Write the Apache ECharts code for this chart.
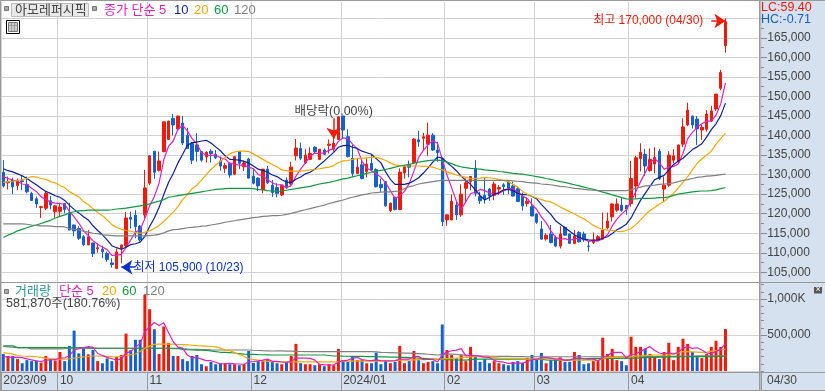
<!DOCTYPE html>
<html><head><meta charset="utf-8">
<script src="https://cdn.jsdelivr.net/npm/echarts@6/dist/echarts.min.js"></script>
<style>html,body{margin:0;padding:0;background:#fff}#c{width:825px;height:391px}</style>
</head><body><div id="c"></div>
<script>
// Prices are in thousand won, volumes in thousand shares.
const opens=[
130.6,127.9,128.6,127.2,128.4,127.5,125.2,123.8,121.6,121.4,
123.3,120.5,120.6,122.6,120.2,117.1,116.2,114.1,112.0,112.5,
111.0,110.9,109.8,107.4,106.0,111.0,111.8,119.1,119.6,116.8,
119.7,127.8,136.0,131.1,135.9,139.0,144.4,141.7,143.2,140.1,
138.0,137.6,135.9,134.5,136.0,135.2,133.5,131.6,132.9,130.1,
135.9,132.0,134.0,129.6,129.1,126.2,131.4,127.3,126.7,124.8,
128.6,127.6,134.8,136.7,133.0,133.9,137.0,133.9,136.3,137.5,
136.5,139.0,145.0,139.7,134.2,130.3,132.5,130.8,132.9,131.3,
127.5,128.2,120.8,124.2,121.1,130.4,132.5,133.1,138.9,139.3,
137.8,140.1,136.3,134.2,118.4,118.4,122.2,119.7,126.5,128.2,
131.6,124.4,124.7,126.3,124.7,126.3,127.4,128.2,127.1,126.4,
124.4,122.6,121.8,119.9,116.1,113.5,114.8,113.9,111.7,116.5,
114.8,112.4,115.2,114.8,111.7,112.6,113.3,113.5,116.4,119.2,
120.9,122.2,122.1,122.6,127.1,134.1,135.2,131.0,132.7,136.0,
126.3,127.3,133.7,133.3,137.8,142.7,145.0,144.2,141.4,141.6,
143.7,146.8,152.1,163.0];
const closes=[
127.1,128.2,126.9,128.6,128.2,125.6,123.4,122.5,121.8,125.2,
122.2,122.0,121.7,121.1,115.8,115.6,113.7,112.1,114.1,109.8,
111.3,110.3,108.3,107.0,110.2,112.0,118.9,118.6,116.7,113.3,
126.6,134.8,130.6,133.5,143.5,143.7,142.7,145.0,138.1,136.7,
133.7,135.9,133.7,135.7,135.4,134.3,132.2,132.3,129.9,134.6,
132.9,133.0,129.1,127.8,127.1,131.4,127.9,125.4,125.2,127.3,
126.9,131.9,136.8,134.2,135.0,135.4,135.9,136.5,135.2,137.8,
138.0,144.8,141.4,134.6,130.3,131.9,129.0,132.7,131.2,126.9,
126.7,122.0,122.7,121.1,130.6,132.0,131.9,139.1,138.4,139.7,
140.1,136.3,135.6,118.0,119.7,123.2,119.7,125.0,127.9,129.5,
125.2,123.3,123.8,124.5,127.6,126.7,126.9,126.5,124.5,123.1,
122.0,123.2,119.4,117.8,113.5,114.5,112.6,111.7,114.8,114.5,
112.4,114.3,112.8,113.3,111.6,113.3,114.1,115.8,118.1,122.5,
122.5,120.8,121.2,129.0,134.3,135.7,132.2,133.9,134.4,129.0,
127.3,135.0,134.8,137.6,142.2,146.5,142.7,141.7,142.1,145.5,
146.3,150.6,156.1,169.1];
const lows=[
126.7,126.2,125.0,126.0,126.0,125.2,123.3,121.5,118.9,120.9,
121.1,119.0,119.4,120.1,115.8,114.3,113.3,111.7,112.0,108.9,
110.0,108.6,107.7,106.2,105.9,107.3,111.1,116.2,113.7,112.8,
118.8,127.3,128.9,130.8,135.7,138.9,140.0,141.4,137.6,136.7,
132.7,133.3,133.3,133.1,133.1,134.0,131.0,130.4,129.2,129.9,
131.4,130.9,129.0,127.5,125.8,125.2,127.6,124.3,124.2,124.5,
126.3,126.9,133.6,133.7,132.7,133.7,135.3,133.7,135.0,135.4,
135.9,138.9,139.1,134.4,129.5,130.2,128.8,129.3,130.8,126.7,
125.6,121.8,120.4,120.8,120.9,129.0,129.3,132.9,137.1,136.3,
134.8,136.1,133.3,116.8,116.9,118.4,118.4,119.2,123.2,126.0,
124.4,122.5,122.6,123.3,123.5,124.8,124.8,125.0,124.4,123.1,
120.8,121.8,119.4,117.4,113.3,113.1,112.4,111.4,111.1,114.4,
112.2,112.2,112.6,112.8,110.3,112.2,113.1,113.3,116.0,118.0,
120.5,120.5,119.7,121.8,123.9,130.8,129.7,130.8,130.3,128.6,
123.1,126.9,132.9,132.9,137.0,142.4,141.8,137.6,138.9,141.0,
143.5,146.3,151.6,161.2];
const highs=[
133.7,129.5,129.2,129.0,129.9,129.5,125.6,124.4,122.0,125.6,
124.5,122.2,122.8,122.8,122.8,117.2,116.8,114.5,115.8,112.6,
112.4,111.8,110.3,108.6,111.1,112.0,120.5,120.5,120.9,117.1,
131.2,135.0,136.0,135.9,143.5,143.8,145.5,145.0,145.0,142.0,
138.3,140.6,136.0,136.0,136.5,136.3,134.6,133.0,133.1,134.8,
135.9,133.6,134.3,131.6,129.3,131.4,132.2,128.6,127.8,127.3,
129.3,133.3,139.1,138.2,136.5,137.0,137.3,136.5,136.7,139.0,
139.3,144.8,145.0,141.6,137.6,134.0,134.2,134.2,135.2,131.6,
129.0,128.2,122.8,124.4,131.6,132.5,133.6,139.3,141.2,140.7,
143.3,140.6,138.4,134.2,119.7,124.9,123.1,127.5,129.0,129.6,
133.7,125.6,129.3,126.5,128.2,127.3,127.8,128.4,128.2,126.9,
125.4,124.1,123.9,120.1,118.1,115.0,117.1,114.4,116.8,116.7,
115.0,115.8,115.6,115.4,112.8,115.2,114.5,120.3,120.3,122.6,
123.9,124.2,122.1,133.5,134.8,138.0,136.6,136.7,137.0,136.6,
129.5,136.0,136.5,137.6,144.4,148.4,145.0,145.0,142.9,146.5,
147.6,150.6,156.8,170.0];
const ma5=[
129.5,129.0,128.6,128.3,127.6,127.5,126.5,125.7,124.3,123.7,
122.9,122.7,122.6,122.4,120.6,119.2,117.6,115.7,114.3,113.1,
112.2,111.5,110.8,109.3,109.4,109.6,111.3,113.3,115.3,115.9,
118.8,122.0,124.4,127.8,133.8,137.2,138.6,141.6,142.6,141.2,
139.2,137.9,135.6,135.0,134.9,135.0,134.3,134.0,132.8,132.7,
132.4,132.5,131.9,131.5,130.0,129.7,128.7,127.9,127.4,127.4,
126.5,127.3,129.6,131.4,133.0,134.7,135.5,135.4,135.6,136.2,
136.7,138.5,139.4,139.3,137.8,136.6,133.4,131.7,131.0,130.3,
129.3,127.9,125.9,123.9,124.6,125.7,127.7,130.9,134.4,136.2,
137.6,138.7,138.0,133.9,129.9,126.6,123.2,121.1,123.1,125.1,
125.5,126.2,125.9,125.3,124.9,125.2,125.9,126.4,126.4,125.5,
124.5,123.9,122.4,121.1,119.2,117.7,115.6,114.0,113.4,113.6,
113.2,113.5,113.8,113.5,112.9,113.1,113.0,113.6,114.6,116.8,
118.6,119.9,121.0,123.2,125.6,128.2,130.5,133.0,134.1,133.0,
131.4,131.9,132.1,132.7,135.4,139.2,140.8,142.1,143.0,143.7,
143.7,145.2,148.1,153.5];
const ma10=[
131.5,131.0,130.7,130.2,129.7,129.0,128.2,127.4,126.5,125.7,
125.2,124.6,124.2,123.4,122.2,121.1,120.2,119.2,118.4,116.9,
115.7,114.6,113.3,111.8,111.3,110.9,111.4,112.1,112.3,112.7,
114.2,116.7,118.9,121.6,124.9,128.0,130.3,133.0,135.2,137.5,
138.2,138.3,138.6,138.8,138.1,137.1,136.1,134.8,133.9,133.8,
133.7,133.4,133.0,132.2,131.4,131.1,130.6,129.9,129.5,128.7,
128.1,128.0,128.8,129.4,130.2,130.6,131.4,132.5,133.5,134.6,
135.7,137.0,137.4,137.5,137.0,136.7,136.0,135.6,135.2,134.1,
133.0,130.7,128.8,127.5,127.5,127.5,127.8,128.4,129.2,130.4,
131.7,133.2,134.5,134.2,133.1,132.1,131.0,129.6,128.5,127.5,
126.1,124.7,123.5,124.2,125.0,125.4,126.1,126.2,125.9,125.2,
124.9,124.9,124.4,123.8,122.4,121.1,119.8,118.2,117.3,116.4,
115.5,114.6,113.9,113.5,113.3,113.2,113.3,113.7,114.1,114.9,
115.9,116.5,117.3,118.9,121.2,123.4,125.2,127.0,128.7,129.3,
129.8,131.2,132.6,133.4,134.2,135.3,136.4,137.1,137.9,139.6,
141.5,143.0,145.1,148.3];
const ma20=[
128.0,128.2,128.3,128.5,128.7,129.0,129.5,129.4,129.0,128.8,
128.2,127.9,127.2,126.7,125.6,125.0,124.3,123.1,122.3,121.3,
120.3,119.5,118.4,117.2,116.5,116.0,115.7,115.5,115.2,115.0,
115.3,115.6,116.2,117.0,118.0,119.2,120.4,121.8,123.6,124.9,
126.4,127.3,128.6,130.0,131.3,132.4,133.4,134.4,135.3,135.8,
136.0,136.0,135.9,135.3,134.6,133.9,133.2,132.6,132.0,131.2,
131.0,130.9,130.9,130.9,131.0,131.2,131.3,131.5,131.7,131.9,
132.3,133.1,133.5,133.6,133.9,134.1,134.2,134.3,134.4,134.4,
134.1,133.6,133.0,132.5,132.3,132.2,132.2,132.2,132.2,132.1,
132.1,131.9,131.5,131.2,130.7,130.3,129.9,129.6,129.3,129.0,
129.0,129.1,129.3,129.2,129.0,128.8,128.5,128.2,127.5,126.8,
125.7,125.0,124.4,124.0,123.6,123.2,123.0,122.4,121.7,121.1,
120.5,119.9,119.3,118.7,117.9,117.0,116.4,116.0,115.8,115.7,
115.5,115.4,115.7,116.2,117.2,118.4,119.7,120.8,121.6,122.5,
123.1,124.2,125.2,126.6,128.0,129.5,131.2,132.9,134.0,135.0,
136.0,137.8,139.2,140.6];
const ma60=[
113.9,114.5,115.0,115.6,116.0,116.4,116.8,117.1,117.5,117.9,
118.3,118.9,119.3,119.7,120.2,120.5,120.7,120.8,120.9,120.9,
120.9,120.9,120.9,121.0,121.2,121.3,121.4,121.6,121.8,122.0,
122.2,122.5,122.9,123.2,123.6,124.2,124.4,124.6,124.8,125.0,
125.2,125.4,125.6,125.8,126.0,126.2,126.3,126.4,126.5,126.5,
126.5,126.5,126.5,126.4,126.2,126.1,125.9,125.8,125.7,125.8,
126.0,126.2,126.4,126.6,126.8,127.0,127.3,127.6,127.8,128.0,
128.3,128.6,128.9,129.1,129.4,129.7,130.0,130.3,130.6,130.9,
131.1,131.3,131.6,131.9,132.2,132.4,132.6,132.9,133.2,133.4,
133.6,133.7,133.7,133.6,133.2,132.8,132.3,132.0,131.8,131.6,
131.5,131.4,131.2,131.1,131.0,130.8,130.7,130.5,130.3,130.2,
130.1,129.9,129.7,129.5,129.3,129.0,128.8,128.5,128.2,128.0,
127.7,127.4,127.1,126.8,126.5,126.2,125.9,125.5,125.2,124.8,
124.5,124.1,123.8,123.7,123.8,123.9,123.9,123.9,124.0,124.1,
124.1,124.3,124.7,125.0,125.2,125.4,125.6,125.7,125.8,125.8,
125.9,126.1,126.4,126.7];
const ma120=[
117.4,117.4,117.4,117.4,117.4,117.3,117.1,117.0,116.9,116.9,
116.8,116.7,116.7,116.6,116.2,116.0,115.8,115.5,115.3,115.0,
114.9,114.6,114.5,114.4,114.3,114.3,114.3,114.3,114.3,114.3,
114.3,114.4,114.5,114.7,115.1,115.6,115.9,116.0,116.2,116.4,
116.5,116.6,116.8,116.9,117.1,117.3,117.5,117.8,118.0,118.2,
118.4,118.6,118.8,119.0,119.1,119.3,119.4,119.5,119.5,119.6,
119.8,120.1,120.4,120.7,121.0,121.3,121.6,121.9,122.2,122.6,
122.9,123.2,123.5,123.9,124.2,124.5,124.8,125.0,125.3,125.4,
125.5,125.6,125.6,125.7,125.8,126.4,126.9,127.2,127.6,127.8,
128.0,128.2,128.4,128.5,128.5,128.5,128.5,128.5,128.5,128.5,
128.5,128.5,128.5,128.5,128.5,128.5,128.5,128.5,128.4,128.3,
128.2,128.0,127.9,127.8,127.6,127.5,127.4,127.2,127.0,126.9,
126.7,126.5,126.4,126.2,126.1,126.0,125.9,125.9,125.9,125.9,
125.9,125.9,125.9,126.1,126.5,126.8,127.1,127.2,127.3,127.5,
127.6,127.7,127.9,128.2,128.5,128.7,129.0,129.3,129.4,129.6,
129.7,129.8,130.0,130.1];
const volume=[
236,208,208,165,108,151,137,146,118,208,
165,146,264,137,349,561,245,311,231,292,
137,108,175,137,193,222,519,292,434,434,
1057,858,580,236,618,387,208,208,165,137,
208,222,94,66,127,94,108,108,94,94,
80,94,278,113,137,137,160,127,108,94,
113,208,377,108,94,94,80,94,66,94,
80,307,151,127,208,151,151,108,108,255,
94,137,108,127,349,108,137,278,151,108,
127,137,108,646,292,222,175,222,137,335,
198,127,165,108,137,108,94,80,127,137,
113,184,222,165,250,108,151,160,189,127,
127,264,222,94,108,137,137,462,236,307,
151,137,80,476,335,335,307,236,208,165,
264,392,151,335,448,377,264,193,179,236,
335,420,335,582];
const volMa5=[
200,195,190,190,185,168,154,141,132,152,
155,157,180,184,212,291,311,321,339,328,
243,216,189,170,150,167,249,273,332,380,
547,615,673,633,670,536,406,331,317,221,
185,188,165,145,143,121,98,101,106,100,
97,94,128,132,140,152,165,135,134,125,
120,130,180,180,180,176,151,94,86,86,
83,128,140,152,175,189,158,149,145,155,
143,140,140,144,163,166,166,200,205,156,
160,160,126,225,262,281,289,311,210,218,
213,204,192,187,147,129,122,105,109,109,
110,128,157,164,187,186,179,167,172,147,
151,173,186,167,163,165,140,188,216,256,
259,259,182,230,236,273,307,338,284,250,
236,253,236,261,318,341,315,323,292,250,
241,273,301,382];
const volMa20=[
255,245,235,215,208,205,203,198,190,178,
172,170,165,165,170,178,189,195,200,208,
208,207,204,200,198,205,215,228,236,270,
315,345,370,373,373,373,372,368,365,362,
358,352,350,345,340,335,318,290,283,255,
225,205,170,160,150,140,135,130,128,127,
127,127,127,127,127,127,127,127,127,127,
127,130,134,137,137,137,137,137,137,137,
138,140,142,145,150,152,152,155,158,160,
163,165,165,168,172,176,180,185,190,195,
198,198,195,190,185,180,177,175,172,170,
168,166,165,165,170,172,175,165,155,151,
151,151,151,151,151,151,151,170,189,189,
189,189,190,200,207,212,215,218,222,222,
222,225,235,255,268,268,265,262,259,259,
275,285,295,302];
const volMa60=[
349,349,349,325,325,325,325,325,325,325,
325,325,325,325,322,322,320,320,318,318,
316,316,316,316,316,316,316,316,316,316,
316,316,316,316,316,316,316,316,300,295,
292,290,288,285,280,270,260,259,255,250,
240,235,231,231,228,226,224,222,222,222,
222,222,222,222,222,222,222,222,222,215,
208,208,206,205,204,203,202,201,200,198,
196,195,193,192,190,188,186,184,180,176,
172,168,162,160,158,155,153,151,151,158,
165,165,165,165,165,165,165,165,165,165,
165,165,165,163,160,155,152,151,151,155,
160,165,168,170,172,174,175,175,175,175,
175,175,175,178,180,182,185,188,190,192,
194,195,196,197,198,198,199,200,200,201,
201,202,202,203];
const volMa120=[
340,335,330,325,325,325,307,307,307,307,
307,307,307,312,318,325,323,321,320,318,
316,316,316,316,316,316,316,316,316,316,
316,316,316,316,316,316,312,310,308,305,
302,300,298,296,293,292,292,292,292,292,
292,292,292,288,285,282,280,278,280,279,
277,275,273,271,270,269,269,269,269,269,
269,269,269,269,269,269,269,269,269,265,
259,257,255,253,251,249,247,245,242,238,
233,228,222,228,234,236,230,225,220,215,
210,208,208,206,205,204,203,202,201,200,
199,198,198,198,198,198,198,198,198,198,
198,198,198,198,198,198,198,198,198,198,
198,198,198,198,198,198,199,200,201,202,
203,204,205,206,207,208,208,209,209,210,
210,211,211,212];
const slotCount=161;
const categories=Array.from({length:slotCount},(_,i)=>String(i));
const monthTicks={0:'2023/09',12:'10',31:'11',53:'12',72:'2024/01',94:'02',113:'03',133:'04'};
const lastDateLabel='04/30';
const priceTicks={min:105,max:170,step:5};
const candleUp='#ee1a0a',candleDown='#1560cc';
const FONT="'Liberation Sans','Noto Sans CJK KR',sans-serif";
const GRID={left:0.94,width:759.92};
const fmtPrice=v=>(v*1000).toLocaleString('en-US');
const isMonthStart=i=>Object.prototype.hasOwnProperty.call(monthTicks,i);

const ink='#444';
const txt=(x,y,text,fill,extra)=>({type:'text',z:200,silent:true,x,y,style:Object.assign({text,fill,font:'13px '+FONT,textVerticalAlign:'middle'},extra||{})});
const rect=(x,y,w,h,fill,z,stroke)=>({type:'rect',z:z===undefined?-10:z,silent:true,shape:{x,y,width:w,height:h},style:stroke?{fill,stroke,lineWidth:1}:{fill}});

const panel='#d6e1ef',rule='#999';
const graphics=[
 rect(760,1,65,389,panel),
 rect(0,372,825,18,panel),
 rect(0,0,825,1,rule,150),
 rect(0,0,1,391,rule,150),
 rect(0,282,825,1,rule,150),
 rect(0,372,825,1,rule,150),
 rect(0,390,825,1,rule,150),
 rect(759,0,1.5,391,rule,150),
 rect(4.5,6.5,4,4,'#aaa',200,'#777'),
 rect(11.5,3.5,77,13,'#e9e9e9',190,'#bbb'),
 txt(15,10,'아모레퍼시픽',ink),
 rect(92.5,6.5,4,4,'#aaa',200,'#777'),
 txt(104,10,'종가 단순 5','#e020c0'),
 txt(174,10,'10','#0a1fa0'),
 txt(194,10,'20','#f5a800'),
 txt(214,10,'60','#109a40'),
 txt(234,10,'120','#808080'),
 rect(6.5,20.5,13,13,'#fff',190,'#000'),
 rect(8.5,22.5,9,9,'#ccc',191,'#777'),
 rect(11,23,0.5,8,'#777',192),
 rect(14.5,23,0.5,8,'#777',192),
 rect(9,25.5,8,0.5,'#777',192),
 txt(761,8,'LC:59.40','#ee1a0a',{font:'12.5px '+FONT}),
 txt(761,20,'HC:-0.71','#1560cc',{font:'12.5px '+FONT}),
 rect(4.5,289.5,4,4,'#aaa',200,'#777'),
 txt(15,291,'거래량','#2e9a9a'),
 txt(59,291,'단순 5','#e020c0'),
 txt(102,291,'20','#f5a800'),
 txt(122,291,'60','#109a40'),
 txt(143,291,'120','#808080'),
 txt(6,304,'581,870주(180.76%)',ink,{font:'12.5px '+FONT}),
 txt(767,381,lastDateLabel,ink,{font:'12px '+FONT}),
 rect(814,287,8,6.5,'#555',200),
 txt(815.5,290,'×','#fff',{font:'9px '+FONT})
];

const line=(name,data,color,xi,yi,z)=>({name,type:'line',data,xAxisIndex:xi,yAxisIndex:yi,showSymbol:false,symbol:'none',silent:true,animation:false,z:z||3,lineStyle:{color,width:1.2},itemStyle:{color}});
const annotate=(coord,text,color,position,distance,size)=>({coord,symbol:'circle',symbolSize:0,label:{show:true,position,distance,formatter:text,color,fontFamily:FONT,fontSize:size}});
const arrow=(a,b,color)=>[{coord:a,lineStyle:{color,width:1.5,type:'solid'}},{coord:b}];

const option={
 animation:false,backgroundColor:'#fff',
 graphic:{elements:graphics},
 grid:[
  {left:GRID.left,width:GRID.width,top:18.3,height:254},
  {left:GRID.left,width:GRID.width,top:284.6,height:86.4},
  {left:GRID.left,width:GRID.width,top:2,height:370}
 ],
 xAxis:[
  {type:'category',gridIndex:0,data:categories,show:false},
  {type:'category',gridIndex:1,data:categories,show:false},
  {type:'category',gridIndex:2,data:categories,
   axisLine:{show:true,lineStyle:{color:rule,width:1}},
   axisTick:{show:true,interval:(i)=>isMonthStart(i),length:18,lineStyle:{color:rule}},
   splitLine:{show:true,interval:(i)=>isMonthStart(i),lineStyle:{color:'#d2d2d2',width:1}},
   axisLabel:{show:true,interval:(i)=>isMonthStart(i),formatter:(v)=>monthTicks[v]||'',align:'left',margin:2.5,color:ink,fontFamily:FONT,fontSize:12,hideOverlap:false}}
 ],
 yAxis:[
  {type:'value',gridIndex:0,position:'right',min:priceTicks.min,max:priceTicks.max,interval:priceTicks.step,scale:true,
   axisLine:{show:false},
   axisTick:{show:true,length:6,lineStyle:{color:'#888'}},
   minorTick:{show:true,splitNumber:2,length:3,lineStyle:{color:'#888'}},
   minorSplitLine:{show:false},
   splitLine:{show:true,lineStyle:{color:'#d2d2d2',width:1}},
   axisLabel:{show:true,margin:6.5,showMaxLabel:false,formatter:fmtPrice,color:ink,fontFamily:FONT,fontSize:12}},
  {type:'value',gridIndex:1,position:'right',min:0,max:1200,interval:100,
   axisLine:{show:false},axisTick:{show:true,length:3,lineStyle:{color:'#888'}},splitLine:{show:false},axisLabel:{show:false}},
  {type:'value',gridIndex:1,position:'right',min:0,max:1200,interval:500,
   axisLine:{show:false},axisTick:{show:true,length:6,lineStyle:{color:'#888'}},
   splitLine:{show:true,showMaxLine:false,lineStyle:{color:'#d2d2d2',width:1}},
   axisLabel:{show:true,margin:6.5,showMinLabel:false,showMaxLabel:false,formatter:(v)=>v>=1000?'1,000K':(v*1000).toLocaleString('en-US'),color:ink,fontFamily:FONT,fontSize:12}},
  {type:'value',gridIndex:2,min:0,max:1,show:false}
 ],
 series:[
  {type:'candlestick',name:'price',xAxisIndex:0,yAxisIndex:0,barWidth:3,silent:true,z:2,clip:false,
   data:opens.map((o,i)=>[o,closes[i],lows[i],highs[i]]),
   itemStyle:{color:candleUp,color0:candleDown,borderColor:candleUp,borderColor0:candleDown,borderWidth:1},
   markPoint:{silent:true,animation:false,data:[
     annotate([150,169.3],'최고 170,000 (04/30)',candleUp,'left',8,12),
     annotate([28,106.3],'최저 105,900 (10/23)','#0a2fd0','right',-2,12),
     annotate([70,144.4],'배당락(0.00%)',ink,'top',1,12.5)
   ]},
   markLine:{silent:true,animation:false,symbol:['none','arrow'],symbolSize:11,label:{show:false},data:[
     arrow([150,169.3],[153,169.3],candleUp),
     arrow([28,106.3],[25,106.3],'#0a2fd0'),
     arrow([70,144.4],[70,139.2],candleUp)
   ]}
  },
  line('ma5',ma5,'#e020c0',0,0),
  line('ma10',ma10,'#0a1fa0',0,0),
  line('ma20',ma20,'#f5a800',0,0),
  line('ma60',ma60,'#109a40',0,0),
  line('ma120',ma120,'#808080',0,0),
  {type:'bar',name:'volume',xAxisIndex:1,yAxisIndex:2,barWidth:3,silent:true,z:2,
   data:volume.map((v,i)=>({value:v,itemStyle:{color:closes[i]>=opens[i]?candleUp:candleDown}}))},
  line('volMa120',volMa120,'#808080',1,2,3),
  line('volMa60',volMa60,'#109a40',1,2,3),
  line('volMa20',volMa20,'#f5a800',1,2,4),
  line('volMa5',volMa5,'#e020c0',1,2,5)
 ]
};
const chart=echarts.init(document.getElementById('c'),null,{renderer:'canvas'});
chart.setOption(option);
</script></body></html>
